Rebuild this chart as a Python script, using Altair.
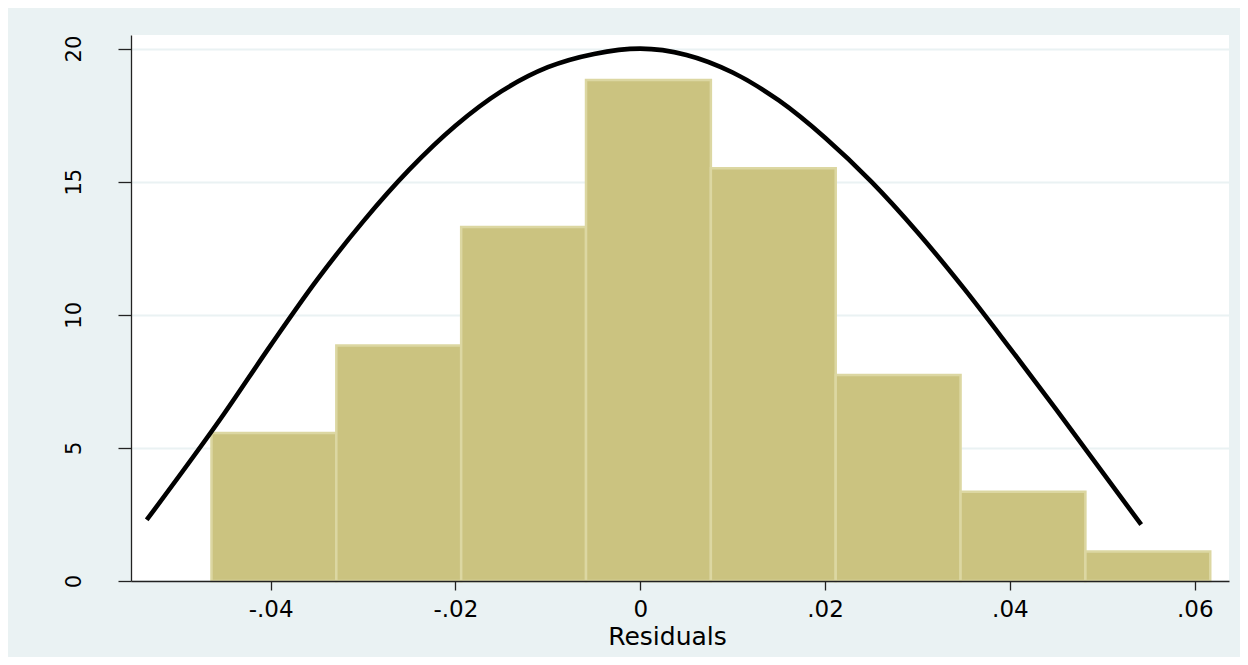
import altair as alt
import pandas as pd

# ---- data ----
bin_edges = [-0.0464, -0.03289, -0.01938, -0.00587, 0.00764, 0.02115, 0.03466, 0.04817, 0.06168]
bin_density = [5.56, 8.85, 13.30, 18.82, 15.50, 7.74, 3.35, 1.11]

curve_x = [-0.0534, -0.045, -0.040, -0.035, -0.030, -0.025, -0.020, -0.015, -0.010, -0.005,
           0.000, 0.005, 0.010, 0.015, 0.020, 0.025, 0.030, 0.035, 0.040, 0.045, 0.0542]
curve_y = [2.30, 6.30, 8.85, 11.30, 13.50, 15.45, 17.10, 18.40, 19.30, 19.80,
           20.00, 19.76, 19.10, 18.05, 16.65, 15.00, 13.10, 11.00, 8.75, 6.45, 2.12]

x_ticks = [-0.04, -0.02, 0.0, 0.02, 0.04, 0.06]
x_tick_labels = ["-.04", "-.02", "0", ".02", ".04", ".06"]
y_ticks = [0, 5, 10, 15, 20]
x_title = "Residuals"

bars = pd.DataFrame({
    "left": bin_edges[:-1],
    "right": bin_edges[1:],
    "density": bin_density,
})
curve = pd.DataFrame({"x": curve_x, "y": curve_y})

label_expr = " ".join(
    f"abs(datum.value - ({v})) < 1e-9 ? '{lab}' :" for v, lab in zip(x_ticks, x_tick_labels)
) + " ''"

x_scale = alt.Scale(domain=[-0.05511, 0.06371], nice=False, zero=False)
y_scale = alt.Scale(domain=[0, 20.51], nice=False)

x_axis = alt.Axis(
    values=x_ticks, labelExpr=label_expr, title=x_title,
    grid=False, tickSize=9, tickWidth=1.3, tickColor="#222222",
    domainColor="#222222", domainWidth=1.3,
    labelFont="DejaVu Sans", labelFontSize=23, labelColor="#000000",
    labelBaseline="alphabetic", labelPadding=26, labelAlign="center",
    labelFlush=False, labelOverlap=False,
    titleFont="DejaVu Sans", titleFontSize=25, titleFontWeight="normal", titleColor="#000000",
    titleBaseline="alphabetic", titleAlign="center", titleX=536, titleY=63,
    zindex=1,
)
y_axis = alt.Axis(
    values=y_ticks, title=None,
    grid=True, gridColor="#EAF2F3", gridWidth=2,
    tickSize=13, tickWidth=1.3, tickColor="#222222",
    domainColor="#222222", domainWidth=1.3,
    labelFont="DejaVu Sans", labelFontSize=21, labelColor="#000000",
    labelAngle=270, labelAlign="center", labelBaseline="alphabetic", labelPadding=38,
    labelFlush=False, labelOverlap=False,
    zindex=0,
)

hist = alt.Chart(bars).mark_rect(
    fill="#CBC380", stroke="#DCD7A2", strokeWidth=2.5
).encode(
    x=alt.X("left:Q", scale=x_scale, axis=x_axis),
    x2="right:Q",
    y=alt.Y("density:Q", scale=y_scale, axis=y_axis),
    y2=alt.datum(0),
)

line = alt.Chart(curve).mark_line(
    color="#000000", strokeWidth=4.6, interpolate="monotone", strokeCap="butt"
).encode(
    x=alt.X("x:Q", scale=x_scale),
    y=alt.Y("y:Q", scale=y_scale),
)

chart = alt.layer(hist, line).properties(
    width=1098, height=546,
    background="#EAF2F3",
    autosize=alt.AutoSizeParams(type="none"),
    padding={"left": 123, "top": 27, "right": 11, "bottom": 76},
).configure_view(
    fill="#FFFFFF", stroke=None
)

chart.save("out.html", embed_options={"renderer": "svg", "actions": False})
